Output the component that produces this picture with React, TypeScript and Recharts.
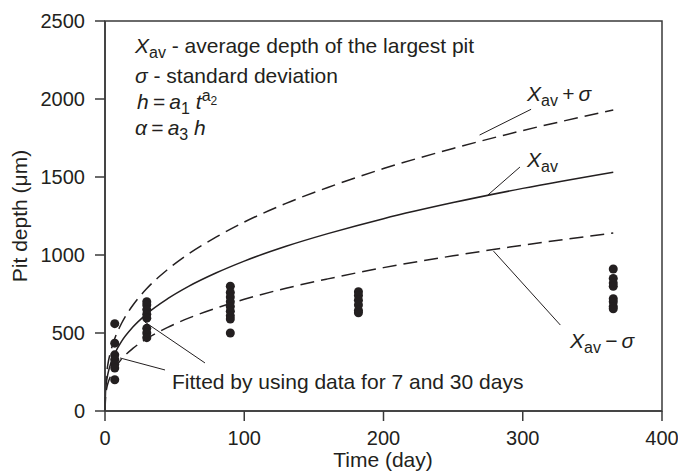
import { ComposedChart, Line, Scatter, XAxis, YAxis, ReferenceLine, ReferenceArea } from "recharts"

const FONT = "'Liberation Sans', Arial, Helvetica, sans-serif"
const INK = "#231f20"
const AXIS = "#3a3a3a"

// fitted curves (days vs depth, µm)
const days = [0, 0.5, 1, 2, 4, 7, 12, 20, 30, 45, 60, 80, 100, 130, 160, 200, 250, 300, 365]
const meanDepth = [0, 143, 183, 235, 301, 368, 448, 538, 623, 720, 799, 886, 961, 1056, 1137, 1233, 1336, 1427, 1531]
const upperDepth = [0, 180, 231, 296, 379, 464, 564, 678, 785, 907, 1007, 1116, 1211, 1331, 1433, 1554, 1683, 1798, 1929]
const lowerDepth = [0, 107, 136, 175, 224, 274, 334, 401, 464, 536, 595, 660, 716, 787, 847, 919, 995, 1063, 1141]

// measured pit depths
const measuredDays = [7, 30, 90, 182, 365]
const measuredDepths = [
  [560, 435, 360, 330, 300, 275, 200],
  [700, 680, 650, 620, 595, 530, 500, 470],
  [800, 760, 730, 700, 670, 640, 610, 590, 500],
  [765, 740, 710, 680, 645, 630],
  [910, 850, 820, 800, 720, 700, 670, 655],
]

const xTicks = [0, 100, 200, 300, 400]
const yTicks = [0, 500, 1000, 1500, 2000, 2500]

const tickStyle = { fill: INK, fontSize: 20, fontFamily: FONT }

export default function App() {
  const curve = days.map((t, i) => ({ t, mean: meanDepth[i], upper: upperDepth[i], lower: lowerDepth[i] }))
  const points = measuredDays.flatMap((t, i) => measuredDepths[i].map((d) => ({ t, d })))

  return (
    <div style={{ position: "absolute", left: 0, top: 0, width: 678, height: 471, background: "#fff" }}>
      <ComposedChart width={678} height={471} data={curve} margin={{ top: 21, right: 16, bottom: 0, left: 0 }}>
        <XAxis
          dataKey="t"
          type="number"
          domain={[0, 400]}
          ticks={xTicks}
          height={60}
          tickSize={10}
          tickMargin={10}
          stroke={AXIS}
          strokeWidth={1.5}
          tick={tickStyle}
        />
        <YAxis
          type="number"
          domain={[0, 2500]}
          ticks={yTicks}
          width={105}
          tickSize={10}
          tickMargin={10}
          stroke={AXIS}
          strokeWidth={1.5}
          tick={tickStyle}
        />
        <ReferenceArea x1={0} x2={400} y1={0} y2={2500} fill="none" stroke={AXIS} strokeWidth={1.5} />
        <Line dataKey="upper" type="monotone" stroke={INK} strokeWidth={1.5} strokeDasharray="14 7" dot={false} isAnimationActive={false} />
        <Line dataKey="mean" type="monotone" stroke={INK} strokeWidth={1.5} dot={false} isAnimationActive={false} />
        <Line dataKey="lower" type="monotone" stroke={INK} strokeWidth={1.5} strokeDasharray="14 7" dot={false} isAnimationActive={false} />
        <Scatter data={points} dataKey="d" fill={INK} isAnimationActive={false} />
        <ReferenceLine segment={[{ x: 269, y: 1769 }, { x: 306, y: 1934 }]} stroke={INK} strokeWidth={1} />
        <ReferenceLine segment={[{ x: 275, y: 1385 }, { x: 298, y: 1564 }]} stroke={INK} strokeWidth={1} />
        <ReferenceLine segment={[{ x: 279, y: 1025 }, { x: 327, y: 551 }]} stroke={INK} strokeWidth={1} />
        <ReferenceLine segment={[{ x: 28.7, y: 570 }, { x: 71.8, y: 308 }]} stroke={INK} strokeWidth={1} />
        <ReferenceLine segment={[{ x: 10.8, y: 340 }, { x: 43.1, y: 263 }]} stroke={INK} strokeWidth={1} />
      </ComposedChart>
      <svg width={678} height={471} style={{ position: "absolute", left: 0, top: 0, pointerEvents: "none" }} fontFamily={FONT} fill={INK} fontSize={21}>
        <text x={135} y={53}>
          <tspan fontStyle="italic">X</tspan>
          <tspan fontSize={16} dy={5}>av</tspan>
          <tspan dy={-5}> - average depth of the largest pit</tspan>
        </text>
        <text x={135} y={83}>
          <tspan fontStyle="italic">σ</tspan>
          <tspan> - standard deviation</tspan>
        </text>
        <text x={137} y={109}>
          <tspan fontStyle="italic">h</tspan>
          <tspan>{"\u2009=\u2009"}</tspan>
          <tspan fontStyle="italic">a</tspan>
          <tspan fontSize={16} dy={5}>1</tspan>
          <tspan dy={-5}> </tspan>
          <tspan fontStyle="italic">t</tspan>
          <tspan fontSize={16} dy={-8}>a</tspan>
          <tspan fontSize={12} dy={4}>2</tspan>
        </text>
        <text x={135} y={135}>
          <tspan fontStyle="italic">α</tspan>
          <tspan>{"\u2009=\u2009"}</tspan>
          <tspan fontStyle="italic">a</tspan>
          <tspan fontSize={16} dy={5}>3</tspan>
          <tspan dy={-5}> </tspan>
          <tspan fontStyle="italic">h</tspan>
        </text>

        <text x={527} y={101}>
          <tspan fontStyle="italic">X</tspan>
          <tspan fontSize={16} dy={5}>av</tspan>
          <tspan dy={-5}>{"\u2009+\u2009"}</tspan>
          <tspan fontStyle="italic">σ</tspan>
        </text>
        <text x={527} y={167}>
          <tspan fontStyle="italic">X</tspan>
          <tspan fontSize={16} dy={5}>av</tspan>
        </text>
        <text x={570} y={348}>
          <tspan fontStyle="italic">X</tspan>
          <tspan fontSize={16} dy={5}>av</tspan>
          <tspan dy={-5}>{"\u2009−\u2009"}</tspan>
          <tspan fontStyle="italic">σ</tspan>
        </text>
        <text x={172} y={389}>Fitted by using data for 7 and 30 days</text>

        <text x={383} y={467} textAnchor="middle">Time (day)</text>
        <text x={27} y={216} textAnchor="middle" transform="rotate(-90 27 216)">Pit depth (μm)</text>
      </svg>
    </div>
  )
}
